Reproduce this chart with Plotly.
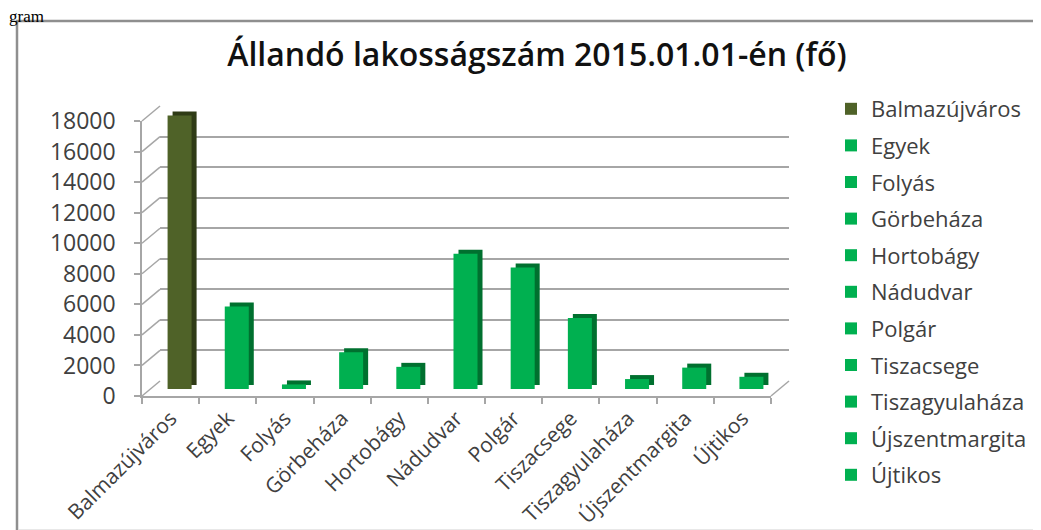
import plotly.graph_objects as go

# ---- data ----
categories = ["Balmazújváros", "Egyek", "Folyás", "Görbeháza", "Hortobágy",
              "Nádudvar", "Polgár", "Tiszacsege", "Tiszagyulaháza",
              "Újszentmargita", "Újtikos"]
population = [17900, 5400, 300, 2400, 1450, 8850, 7950, 4650, 650, 1400, 800]
front_colors = ["#4f6228"] + ["#00b050"] * 10
side_colors = ["#2f3b16"] + ["#00702f"] * 10
y_ticks = [0, 2000, 4000, 6000, 8000, 10000, 12000, 14000, 16000, 18000]
title_text = "Állandó lakosságszám 2015.01.01-én (fő)"

W, H = 1041, 530
YMAX = 18000


def fx(p):
    return p / W


def fy(p):
    return 1 - p / H


FONT = "Open Sans"
TXT = "#404040"
GRID = "#a6a6a6"

fig = go.Figure()

# back-wall grid frame (subplot xy)
fig.add_trace(go.Scatter(x=categories, y=population, mode="markers",
                         marker=dict(opacity=0), showlegend=False,
                         hoverinfo="skip", xaxis="x", yaxis="y"))
# front axis frame (x2y2)
fig.add_trace(go.Scatter(x=categories, y=population, mode="markers",
                         marker=dict(opacity=0), showlegend=False,
                         hoverinfo="skip", xaxis="x2", yaxis="y2"))
# bar depth (side/top shading) copy (x3y3)
fig.add_trace(go.Bar(x=categories, y=population, width=0.42,
                     marker=dict(color=side_colors, line=dict(width=0)),
                     showlegend=False, hoverinfo="skip",
                     xaxis="x3", yaxis="y3"))
# front faces (x4y4)
for cat, val, col in zip(categories, population, front_colors):
    fig.add_trace(go.Bar(x=[cat], y=[val], width=0.42, name=cat,
                         legendgroup=cat,
                         marker=dict(color=col, line=dict(width=0)),
                         xaxis="x4", yaxis="y4"))

cat_axis = dict(type="category", range=[-0.5, 10.5], showgrid=False,
                zeroline=False, fixedrange=True, automargin=False)
val_axis = dict(range=[0, YMAX], showgrid=False, zeroline=False,
                fixedrange=True, automargin=False, tickformat="d")

layout = dict(
    width=W, height=H,
    margin=dict(l=0, r=0, t=0, b=0, autoexpand=False),
    paper_bgcolor="white",
    plot_bgcolor="rgba(0,0,0,0)",
    barmode="overlay",
    font=dict(family=FONT, color=TXT),
    title=dict(text=title_text, x=fx(529), y=fy(47), xanchor="center",
               yanchor="middle", automargin=False,
               font=dict(family=FONT, size=32, color="#111111", weight=600)),
    xaxis=dict(cat_axis, domain=[fx(152), fx(781)], anchor="y",
               showticklabels=False),
    yaxis=dict(val_axis, domain=[fy(373), fy(98)], anchor="x",
               showgrid=True, gridcolor=GRID, gridwidth=1.6,
               tickvals=y_ticks, showticklabels=False),
    xaxis2=dict(cat_axis, domain=[fx(134), fx(763)], anchor="y2",
                showline=True, linecolor=GRID, linewidth=1.5,
                ticks="outside", tickson="boundaries", ticklen=6,
                tickcolor=GRID, tickwidth=1.5, tickangle=-45,
                tickfont=dict(family=FONT, size=21, color=TXT)),
    yaxis2=dict(val_axis, domain=[fy(388), fy(113)], anchor="x2",
                showline=True, linecolor=GRID, linewidth=1.5,
                ticks="outside", ticklen=6, tickcolor=GRID, tickwidth=1.5,
                tickvals=y_ticks, ticklabelstandoff=14,
                tickfont=dict(family=FONT, size=23, color=TXT)),
    xaxis3=dict(cat_axis, domain=[fx(148), fx(777)], anchor="y3",
                showticklabels=False),
    yaxis3=dict(val_axis, domain=[fy(377), fy(102)], anchor="x3",
                showticklabels=False),
    xaxis4=dict(cat_axis, domain=[fx(143), fx(772)], anchor="y4",
                showticklabels=False),
    yaxis4=dict(val_axis, domain=[fy(381), fy(106)], anchor="x4",
                showticklabels=False),
    legend=dict(x=fx(823), y=fy(80), xanchor="left", yanchor="top",
                font=dict(family=FONT, size=22, color=TXT),
                tracegroupgap=5, bgcolor="rgba(0,0,0,0)",
                itemclick=False, itemdoubleclick=False),
)
fig.update_layout(**layout)

# 3-D wall / floor decoration lines (side wall grid + floor edges)
def front_y(v):
    return 388 - v / YMAX * 275


def back_y(v):
    return 373 - v / YMAX * 275


shapes = []
for v in y_ticks:
    shapes.append(dict(type="line", xref="paper", yref="paper",
                       x0=fx(134), y0=fy(front_y(v)),
                       x1=fx(152), y1=fy(back_y(v)),
                       line=dict(color=GRID, width=1.5)))
shapes.append(dict(type="line", xref="paper", yref="paper",
                   x0=fx(763), y0=fy(388), x1=fx(781), y1=fy(373),
                   line=dict(color=GRID, width=1.5)))
# chart frame
shapes.append(dict(type="path", xref="paper", yref="paper",
                   path=f"M {fx(9)} {fy(530)} L {fx(9)} {fy(13)} L {fx(1041)} {fy(13)}",
                   line=dict(color="#8f8f8f", width=2.5)))
shapes.append(dict(type="line", xref="paper", yref="paper",
                   x0=fx(10), y0=fy(522), x1=fx(1041), y1=fy(522),
                   line=dict(color="#e0e0e0", width=1.5)))
fig.update_layout(shapes=shapes)

fig.add_annotation(text="gram", xref="paper", yref="paper",
                   x=0, y=1, xanchor="left", yanchor="top", yshift=2,
                   showarrow=False, borderpad=0,
                   font=dict(family="Liberation Serif", size=17, color="#000"))

fig.write_html("out.html")
